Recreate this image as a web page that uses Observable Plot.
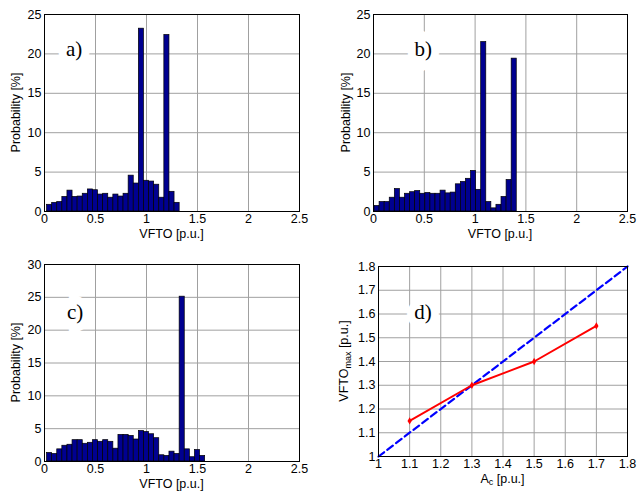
<!DOCTYPE html>
<html><head><meta charset="utf-8">
<script src="https://cdn.jsdelivr.net/npm/d3@7"></script>
<script src="https://cdn.jsdelivr.net/npm/@observablehq/plot@0.6"></script>
<style>
body{margin:0;background:#fff;}
#wrap{position:relative;width:642px;height:491px;overflow:hidden;background:#fff;}
#wrap > svg{position:absolute;overflow:visible;}
</style></head><body><div id="wrap"></div>
<script>
// ---- data ----
const xTicksHist = [0, 0.5, 1, 1.5, 2, 2.5];
const yTicksAB = [0, 5, 10, 15, 20, 25];
const yTicksC = [0, 5, 10, 15, 20, 25, 30];
const ticksD = [1, 1.1, 1.2, 1.3, 1.4, 1.5, 1.6, 1.7, 1.8];

const centersA = [0.05,0.10,0.15,0.20,0.25,0.30,0.35,0.40,0.45,0.50,0.55,0.60,0.65,0.70,0.75,0.80,0.85,0.90,0.95,1.00,1.05,1.10,1.15,1.20,1.25,1.30];
const probA    = [0.85,1.1,1.2,1.85,2.65,1.85,1.9,2.25,2.8,2.7,2.15,2.25,1.75,2.15,1.9,2.25,4.55,3.55,23.2,3.9,3.8,3.4,1.75,22.4,2.5,1.1];

const centersB = [0.035,0.085,0.135,0.185,0.235,0.285,0.335,0.385,0.435,0.485,0.535,0.585,0.635,0.685,0.735,0.785,0.835,0.885,0.935,0.985,1.035,1.085,1.135,1.185,1.235,1.285,1.335,1.385];
const probB    = [0.7,1.2,1.2,1.75,2.85,1.75,2.25,2.45,2.6,2.25,2.35,2.25,2.25,2.65,2.3,2.4,3.45,3.75,4.15,5.15,2.75,21.5,1.2,0.4,0.85,1.85,4.0,19.4];

const centersC = [0.05,0.10,0.15,0.20,0.25,0.30,0.35,0.40,0.45,0.50,0.55,0.60,0.65,0.70,0.75,0.80,0.85,0.90,0.95,1.00,1.05,1.10,1.15,1.20,1.25,1.30,1.35,1.40,1.45,1.50,1.55];
const probC    = [1.3,1.15,1.85,2.4,2.55,3.25,3.25,2.7,2.85,3.25,3.0,3.25,3.0,1.95,4.05,4.05,3.9,3.35,4.65,4.5,4.15,3.55,0.95,0.85,1.5,1.15,25.1,1.85,0.65,1.75,0.85];

const acD   = [1.1, 1.3, 1.5, 1.7];
const vmaxD = [1.15, 1.3, 1.4, 1.55];
const refD  = [1, 1.8];

const binWidth = 0.05;
const FONT = "'Liberation Sans', Arial, sans-serif";
const SERIF = "'Liberation Serif', 'Times New Roman', serif";
const GRID = "#a0a0a0";
const BAR = "#000090";

const wrap = document.getElementById("wrap");

function place(svg, left, top) {
  svg.style.left = left + "px";
  svg.style.top = top + "px";
  wrap.appendChild(svg);
  return svg;
}

function addLabels(svg, opt) {
  const s = d3.select(svg);
  // x label
  s.append("text")
    .attr("x", opt.xlx).attr("y", opt.xly)
    .attr("text-anchor", "middle").attr("dominant-baseline", "middle")
    .attr("font-family", FONT).attr("font-size", 12.5).attr("fill", "#000")
    .call(t => {
      if (opt.xsub) {
        t.append("tspan").text(opt.xlabel[0]);
        t.append("tspan").text(opt.xsub).attr("font-size", 9).attr("dy", 3);
        t.append("tspan").text(opt.xlabel[1]).attr("dy", -3);
      } else t.text(opt.xlabel);
    });
  // y label
  s.append("text")
    .attr("transform", `translate(${opt.ylx},${opt.yly}) rotate(-90)`)
    .attr("text-anchor", "middle").attr("dominant-baseline", "middle")
    .attr("font-family", FONT).attr("font-size", 12.5).attr("fill", "#000")
    .call(t => {
      if (opt.ysub) {
        t.append("tspan").text(opt.ylabel[0]);
        t.append("tspan").text(opt.ysub).attr("font-size", 9).attr("dy", 4);
        t.append("tspan").text(opt.ylabel[1]).attr("dy", -4);
      } else t.text(opt.ylabel);
    });
}

function hist(cfg) {
  const data = cfg.centers.map((c, i) => ({c, v: cfg.values[i]}));
  const svg = Plot.plot({
    width: cfg.w, height: cfg.h,
    marginLeft: cfg.ml, marginRight: cfg.mr, marginTop: cfg.mt, marginBottom: cfg.mb,
    style: {fontFamily: FONT, fontSize: "12.5px", color: "#000", background: "transparent", overflow: "visible"},
    x: {domain: [0, 2.5], ticks: xTicksHist},
    y: {domain: [0, cfg.ymax], ticks: cfg.yticks},
    marks: [
      Plot.gridX(xTicksHist, {stroke: GRID, strokeOpacity: 1, strokeWidth: 1}),
      Plot.gridY(cfg.yticks, {stroke: GRID, strokeOpacity: 1, strokeWidth: 1}),
      Plot.text([cfg.label], {x: cfg.lx, y: cfg.ly, text: d => d, fontFamily: SERIF, fontSize: 21,
        fill: "#000", stroke: "#fff", strokeWidth: 16, strokeLinejoin: "miter"}),
      Plot.rectY(data, {x1: d => d.c - binWidth / 2, x2: d => d.c + binWidth / 2, y: "v",
        fill: BAR, stroke: "#000", strokeWidth: 0.7, insetLeft: 0, insetRight: 0}),
      Plot.frame({stroke: "#000", strokeWidth: 1}),
      Plot.axisX(xTicksHist, {tickSize: 0, tickPadding: 3, label: null, tickFormat: d => String(d), fontSize: 12.5}),
      Plot.axisY(cfg.yticks, {tickSize: 0, tickPadding: 3, label: null, tickFormat: d => String(d), fontSize: 12.5})
    ]
  });
  place(svg, cfg.left, cfg.top);
  addLabels(svg, {
    xlabel: "VFTO [p.u.]", xlx: cfg.ml + (cfg.w - cfg.ml - cfg.mr) / 2, xly: cfg.h - cfg.mb + 24,
    ylabel: "Probability [%]", ylx: cfg.ylx, yly: cfg.mt + (cfg.h - cfg.mt - cfg.mb) / 2
  });
}

// panel a
hist({centers: centersA, values: probA, ymax: 25, yticks: yTicksAB, label: "a)", lx: 0.29, ly: 20.6,
  left: 0, top: 0, w: 310, h: 240, ml: 44, mr: 11, mt: 14, mb: 29, ylx: 17});
// panel b
hist({centers: centersB, values: probB, ymax: 25, yticks: yTicksAB, label: "b)", lx: 0.49, ly: 20.6,
  left: 320, top: 0, w: 320, h: 240, ml: 53, mr: 13, mt: 14, mb: 29, ylx: 27});
// panel c
hist({centers: centersC, values: probC, ymax: 30, yticks: yTicksC, label: "c)", lx: 0.30, ly: 22.7,
  left: 0, top: 245, w: 310, h: 246, ml: 44, mr: 11, mt: 19, mb: 30, ylx: 17});

// panel d
{
  const pts = acD.map((a, i) => ({a, v: vmaxD[i]}));
  const ref = refD.map(r => ({a: r, v: r}));
  const svg = Plot.plot({
    width: 320, height: 246,
    marginLeft: 58, marginRight: 13, marginTop: 21, marginBottom: 35,
    style: {fontFamily: FONT, fontSize: "12.5px", color: "#000", background: "transparent", overflow: "visible"},
    x: {domain: [1, 1.8], ticks: ticksD},
    y: {domain: [1, 1.8], ticks: ticksD},
    marks: [
      Plot.gridX(ticksD, {stroke: GRID, strokeOpacity: 1, strokeWidth: 1}),
      Plot.gridY(ticksD, {stroke: GRID, strokeOpacity: 1, strokeWidth: 1}),
      Plot.text(["d)"], {x: 1.143, y: 1.607, text: d => d, fontFamily: SERIF, fontSize: 21,
        fill: "#000", stroke: "#fff", strokeWidth: 16}),
      Plot.line(ref, {x: "a", y: "v", stroke: "#0000ff", strokeWidth: 2.2, strokeDasharray: "7,4"}),
      Plot.line(pts, {x: "a", y: "v", stroke: "#ff0000", strokeWidth: 2}),
      Plot.dot(pts, {x: "a", y: "v", fill: "#ff0000", r: 2.2, symbol: "diamond"}),
      Plot.frame({stroke: "#000", strokeWidth: 1}),
      Plot.axisX(ticksD, {tickSize: 0, tickPadding: 3, label: null, tickFormat: d => String(d), fontSize: 12.5}),
      Plot.axisY(ticksD, {tickSize: 0, tickPadding: 3, label: null, tickFormat: d => String(d), fontSize: 12.5})
    ]
  });
  place(svg, 320, 245);
  addLabels(svg, {
    xlabel: ["A", " [p.u.]"], xsub: "c", xlx: 58 + (320 - 58 - 13) / 2, xly: 246 - 35 + 24,
    ylabel: ["VFTO", " [p.u.]"], ysub: "max", ylx: 25, yly: 21 + (246 - 21 - 35) / 2
  });
}
</script>
</body></html>
